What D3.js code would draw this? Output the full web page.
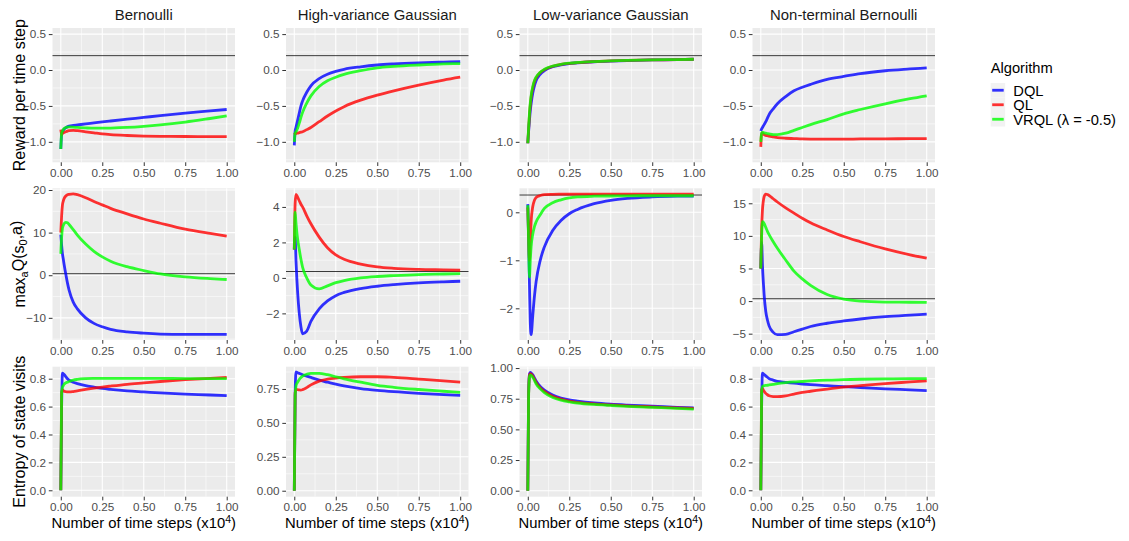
<!DOCTYPE html>
<html>
<head>
<meta charset="utf-8">
<script src="https://cdn.jsdelivr.net/npm/d3@7"></script>
<style>
  body { margin: 0; background: #fff; }
  svg { font-family: "Liberation Sans", Arial, sans-serif; }
</style>
</head>
<body>
<svg id="chart" width="1129" height="541"></svg>
<script>
// shared time grid (x10^4 steps)
const steps = [0, 0.005, 0.01, 0.015, 0.02, 0.03, 0.04, 0.05, 0.075, 0.1, 0.15, 0.2, 0.25, 0.3, 0.4, 0.5, 0.6, 0.75, 0.9, 1.0];

const environments = ["Bernoulli", "High-variance Gaussian", "Low-variance Gaussian", "Non-terminal Bernoulli"];
const algorithms = ["DQL", "QL", "VRQL (λ = -0.5)"];
const colors = ["#0000ff", "#ff0000", "#00ff00"];

// reward per time step
const rewardBernDQL = [-1.1, -0.9, -0.86, -0.84, -0.825, -0.805, -0.79, -0.78, -0.772, -0.765, -0.75, -0.737, -0.723, -0.71, -0.685, -0.66, -0.635, -0.6, -0.57, -0.55];
const rewardBernQL = [-0.83, -0.9, -0.88, -0.875, -0.87, -0.86, -0.85, -0.845, -0.84, -0.845, -0.86, -0.875, -0.89, -0.9, -0.912, -0.92, -0.924, -0.926, -0.927, -0.928];
const rewardBernVRQL = [-1.1, -0.88, -0.85, -0.83, -0.815, -0.8, -0.795, -0.793, -0.795, -0.8, -0.806, -0.81, -0.81, -0.808, -0.8, -0.785, -0.765, -0.725, -0.675, -0.64];
const rewardHighDQL = [-1.05, -0.85, -0.8, -0.75, -0.7, -0.6, -0.5, -0.43, -0.31, -0.22, -0.12, -0.06, -0.02, 0.01, 0.045, 0.07, 0.085, 0.1, 0.11, 0.115];
const rewardHighQL = [-0.9, -0.89, -0.885, -0.88, -0.878, -0.872, -0.866, -0.86, -0.83, -0.8, -0.72, -0.64, -0.57, -0.51, -0.42, -0.35, -0.29, -0.21, -0.14, -0.1];
const rewardHighVRQL = [-1.0, -0.88, -0.86, -0.84, -0.81, -0.74, -0.66, -0.59, -0.46, -0.36, -0.23, -0.15, -0.1, -0.06, -0.01, 0.03, 0.05, 0.07, 0.085, 0.09];
const rewardLowDQL = [-1.02, -0.85, -0.7, -0.57, -0.47, -0.32, -0.22, -0.15, -0.06, -0.01, 0.045, 0.07, 0.09, 0.1, 0.115, 0.125, 0.132, 0.14, 0.145, 0.15];
const rewardLowQL = [-1.02, -0.82, -0.63, -0.49, -0.38, -0.25, -0.16, -0.11, -0.035, 0.005, 0.052, 0.078, 0.093, 0.104, 0.117, 0.126, 0.133, 0.14, 0.145, 0.15];
const rewardLowVRQL = [-1.02, -0.8, -0.6, -0.46, -0.36, -0.23, -0.15, -0.1, -0.03, 0.01, 0.055, 0.08, 0.095, 0.105, 0.118, 0.127, 0.134, 0.141, 0.146, 0.15];
const rewardNonDQL = [-0.85, -0.82, -0.8, -0.78, -0.76, -0.72, -0.67, -0.62, -0.54, -0.47, -0.37, -0.29, -0.24, -0.2, -0.13, -0.09, -0.05, -0.01, 0.015, 0.03];
const rewardNonQL = [-1.07, -0.88, -0.88, -0.89, -0.9, -0.91, -0.915, -0.92, -0.93, -0.94, -0.95, -0.955, -0.96, -0.962, -0.962, -0.962, -0.96, -0.958, -0.956, -0.955];
const rewardNonVRQL = [-1.0, -0.88, -0.87, -0.87, -0.875, -0.88, -0.885, -0.89, -0.9, -0.9, -0.88, -0.84, -0.8, -0.76, -0.69, -0.61, -0.55, -0.47, -0.4, -0.36];

// max_a Q(s0, a)
const qBernDQL = [9.5, 7, 5, 3.8, 2.5, 0.3, -1.8, -3.5, -6.3, -7.9, -10, -11.3, -12.1, -12.7, -13.3, -13.6, -13.8, -13.9, -13.9, -13.9];
const qBernQL = [10, 14, 16.5, 17.4, 18, 18.6, 18.9, 19, 19.1, 18.9, 18.2, 17.3, 16.5, 15.7, 14.4, 13.2, 12.2, 10.8, 9.8, 9.2];
const qBernVRQL = [5, 9, 11, 11.7, 12.1, 12.4, 12.3, 11.9, 10.7, 9.4, 7.3, 5.6, 4.3, 3.3, 2.0, 1.1, 0.3, -0.4, -0.8, -1.0];
const qHighDQL = [1.6, 2.3, 1.0, 0.0, -0.8, -2.0, -2.75, -3.15, -3.0, -2.45, -1.75, -1.3, -1.0, -0.82, -0.6, -0.47, -0.38, -0.28, -0.22, -0.19];
const qHighQL = [1.6, 4.2, 4.7, 4.65, 4.55, 4.35, 4.15, 4.0, 3.5, 3.05, 2.3, 1.7, 1.3, 1.05, 0.78, 0.62, 0.54, 0.48, 0.45, 0.43];
const qHighVRQL = [1.6, 3.7, 3.1, 2.6, 2.2, 1.6, 1.05, 0.6, 0.0, -0.4, -0.62, -0.45, -0.27, -0.15, 0.0, 0.08, 0.13, 0.19, 0.22, 0.24];
const qLowDQL = [0.17, -0.6, -1.5, -2.3, -2.55, -2.15, -1.75, -1.45, -1.0, -0.72, -0.38, -0.17, -0.03, 0.06, 0.18, 0.25, 0.29, 0.32, 0.335, 0.34];
const qLowQL = [0.1, -0.5, -1.0, -0.6, -0.2, 0.12, 0.25, 0.31, 0.35, 0.37, 0.375, 0.377, 0.378, 0.38, 0.38, 0.38, 0.38, 0.38, 0.38, 0.38];
const qLowVRQL = [0.15, -0.6, -1.35, -1.0, -0.72, -0.45, -0.3, -0.2, -0.05, 0.08, 0.2, 0.26, 0.3, 0.32, 0.335, 0.34, 0.343, 0.345, 0.345, 0.345];
const qNonDQL = [5, 9, 5.5, 3, 1.0, -1.6, -2.9, -3.8, -4.8, -5.15, -5.1, -4.7, -4.3, -3.9, -3.4, -3.05, -2.75, -2.4, -2.15, -2.0];
const qNonQL = [5, 11, 14, 15.3, 16, 16.4, 16.35, 16.2, 15.7, 15.2, 14.3, 13.5, 12.7, 12.0, 10.9, 9.9, 9.1, 8.0, 7.1, 6.6];
const qNonVRQL = [5, 10, 12.2, 12.1, 11.9, 11.3, 10.7, 10.2, 9.1, 8.1, 6.3, 4.6, 3.4, 2.4, 1.0, 0.3, 0.0, -0.15, -0.18, -0.2];

// entropy of state visits
const entBernDQL = [0, 0.6, 0.84, 0.835, 0.83, 0.815, 0.8, 0.79, 0.775, 0.765, 0.75, 0.74, 0.73, 0.723, 0.712, 0.705, 0.698, 0.69, 0.683, 0.678];
const entBernQL = [0, 0.7, 0.72, 0.715, 0.71, 0.707, 0.705, 0.705, 0.708, 0.713, 0.723, 0.732, 0.74, 0.747, 0.76, 0.77, 0.78, 0.793, 0.803, 0.81];
const entBernVRQL = [0, 0.7, 0.74, 0.75, 0.76, 0.77, 0.775, 0.78, 0.79, 0.795, 0.8, 0.802, 0.803, 0.803, 0.803, 0.803, 0.802, 0.801, 0.8, 0.8];
const entHighDQL = [0, 0.7, 0.875, 0.873, 0.87, 0.865, 0.86, 0.855, 0.845, 0.835, 0.815, 0.8, 0.785, 0.772, 0.753, 0.74, 0.73, 0.718, 0.708, 0.703];
const entHighQL = [0, 0.72, 0.745, 0.745, 0.745, 0.743, 0.742, 0.745, 0.76, 0.78, 0.808, 0.822, 0.83, 0.835, 0.84, 0.84, 0.835, 0.823, 0.81, 0.8];
const entHighVRQL = [0, 0.7, 0.77, 0.79, 0.8, 0.82, 0.835, 0.845, 0.858, 0.865, 0.865, 0.855, 0.84, 0.825, 0.8, 0.777, 0.762, 0.746, 0.733, 0.725];
const entLowDQL = [0, 0.8, 0.95, 0.965, 0.96, 0.945, 0.92, 0.895, 0.85, 0.82, 0.78, 0.755, 0.74, 0.73, 0.715, 0.705, 0.698, 0.69, 0.68, 0.675];
const entLowQL = [0, 0.79, 0.94, 0.955, 0.95, 0.935, 0.91, 0.883, 0.838, 0.81, 0.77, 0.746, 0.73, 0.72, 0.708, 0.7, 0.692, 0.684, 0.676, 0.672];
const entLowVRQL = [0, 0.78, 0.93, 0.945, 0.94, 0.925, 0.9, 0.872, 0.83, 0.8, 0.76, 0.738, 0.725, 0.715, 0.703, 0.695, 0.688, 0.68, 0.672, 0.665];
const entNonDQL = [0, 0.6, 0.84, 0.835, 0.83, 0.82, 0.81, 0.8, 0.79, 0.78, 0.774, 0.768, 0.762, 0.757, 0.75, 0.743, 0.737, 0.727, 0.72, 0.715];
const entNonQL = [0, 0.72, 0.73, 0.72, 0.71, 0.695, 0.685, 0.678, 0.672, 0.671, 0.677, 0.69, 0.702, 0.71, 0.726, 0.74, 0.75, 0.765, 0.777, 0.785];
const entNonVRQL = [0, 0.7, 0.745, 0.748, 0.75, 0.752, 0.753, 0.755, 0.76, 0.765, 0.772, 0.777, 0.78, 0.784, 0.79, 0.793, 0.796, 0.798, 0.8, 0.8];

// reference (optimal) lines per row, null = none
const refLines = [0.2, 0.36, null];

// y axis settings per panel (row-major)
const yLimits = [
  [-1.285, 0.585], [-1.285, 0.585], [-1.285, 0.585], [-1.285, 0.585],
  [-15.2, 20.4], [-3.5, 5.05], [-2.66, 0.5], [-5.97, 17.3],
  [-0.046, 0.886], [-0.044, 0.914], [-0.049, 1.011], [-0.046, 0.886]
];
const yTicks = [
  [-1, -0.5, 0, 0.5], [-1, -0.5, 0, 0.5], [-1, -0.5, 0, 0.5], [-1, -0.5, 0, 0.5],
  [-10, 0, 10, 20], [-2, 0, 2, 4], [-2, -1, 0], [-5, 0, 5, 10, 15],
  [0, 0.2, 0.4, 0.6, 0.8], [0, 0.25, 0.5, 0.75], [0, 0.25, 0.5, 0.75, 1], [0, 0.2, 0.4, 0.6, 0.8]
];
const yFormats = [".1f", ".1f", ".1f", ".1f", "d", "d", "d", "d", ".1f", ".2f", ".2f", ".1f"];
const xTicks = [0, 0.25, 0.5, 0.75, 1];

const panelSeries = [
  [rewardBernDQL, rewardBernQL, rewardBernVRQL], [rewardHighDQL, rewardHighQL, rewardHighVRQL],
  [rewardLowDQL, rewardLowQL, rewardLowVRQL], [rewardNonDQL, rewardNonQL, rewardNonVRQL],
  [qBernDQL, qBernQL, qBernVRQL], [qHighDQL, qHighQL, qHighVRQL],
  [qLowDQL, qLowQL, qLowVRQL], [qNonDQL, qNonQL, qNonVRQL],
  [entBernDQL, entBernQL, entBernVRQL], [entHighDQL, entHighQL, entHighVRQL],
  [entLowDQL, entLowQL, entLowVRQL], [entNonDQL, entNonQL, entNonVRQL]
];

// layout
const colLeft = [52.5, 286, 519.5, 752.5];
const panelW = 182.5;
const rowTopBottom = [[28, 162.3], [188.3, 340], [366.7, 496.7]];

const svg = d3.select("#chart");
const tickColor = "#333333";
const labelColor = "#4d4d4d";

panelSeries.forEach((series, i) => {
  const row = Math.floor(i / 4);
  const col = i % 4;
  const [top, bottom] = rowTopBottom[row];
  const left = colLeft[col];

  const x = d3.scaleLinear().domain([-0.05, 1.05]).range([left, left + panelW]);
  const y = d3.scaleLinear().domain(yLimits[i]).range([bottom, top]);

  const g = svg.append("g").attr("class", "panel");

  // background
  g.append("rect")
    .attr("x", left).attr("y", top)
    .attr("width", panelW).attr("height", bottom - top)
    .attr("fill", "#ebebeb");

  // minor grid
  const yt = yTicks[i];
  const step = yt[1] - yt[0];
  const yMinor = [];
  for (let v = yt[0] - step / 2; v <= yt[yt.length - 1] + step; v += step) {
    if (v > yLimits[i][0] && v < yLimits[i][1]) yMinor.push(v);
  }
  const xMinor = [0.125, 0.375, 0.625, 0.875];

  g.selectAll(".ymin").data(yMinor).join("line")
    .attr("x1", left).attr("x2", left + panelW)
    .attr("y1", (d) => y(d)).attr("y2", (d) => y(d))
    .attr("stroke", "#fff").attr("stroke-width", 0.55);
  g.selectAll(".xmin").data(xMinor).join("line")
    .attr("y1", top).attr("y2", bottom)
    .attr("x1", (d) => x(d)).attr("x2", (d) => x(d))
    .attr("stroke", "#fff").attr("stroke-width", 0.55);

  // major grid
  g.selectAll(".ymaj").data(yt).join("line")
    .attr("x1", left).attr("x2", left + panelW)
    .attr("y1", (d) => y(d)).attr("y2", (d) => y(d))
    .attr("stroke", "#fff").attr("stroke-width", 1.1);
  g.selectAll(".xmaj").data(xTicks).join("line")
    .attr("y1", top).attr("y2", bottom)
    .attr("x1", (d) => x(d)).attr("x2", (d) => x(d))
    .attr("stroke", "#fff").attr("stroke-width", 1.1);

  // reference line
  if (refLines[row] !== null) {
    g.append("line")
      .attr("x1", left).attr("x2", left + panelW)
      .attr("y1", y(refLines[row])).attr("y2", y(refLines[row]))
      .attr("stroke", "#000").attr("stroke-opacity", 0.75).attr("stroke-width", 1);
  }

  // series lines
  const line = d3.line()
    .x((d, k) => x(steps[k]))
    .y((d) => y(d))
    .curve(d3.curveMonotoneX);

  series.forEach((vals, a) => {
    g.append("path")
      .attr("d", line(vals))
      .attr("fill", "none")
      .attr("stroke", colors[a])
      .attr("stroke-opacity", 0.8)
      .attr("stroke-width", 2.8)
      .attr("stroke-linejoin", "round");
  });

  // axes
  const yAxis = g.append("g")
    .attr("transform", `translate(${left},0)`)
    .call(d3.axisLeft(y).tickValues(yt).tickFormat(d3.format(yFormats[i])).tickSize(3.7).tickPadding(2.8));
  const xAxis = g.append("g")
    .attr("transform", `translate(0,${bottom})`)
    .call(d3.axisBottom(x).tickValues(xTicks).tickFormat(d3.format(".2f")).tickSize(3.7).tickPadding(2.5));

  [yAxis, xAxis].forEach((ax) => {
    ax.select(".domain").remove();
    ax.selectAll("line").attr("stroke", tickColor);
    ax.selectAll("text")
      .attr("fill", labelColor)
      .style("font-size", "11.7px")
      .style("font-family", '"Liberation Sans", Arial, sans-serif');
  });
});

// column titles
svg.selectAll(".coltitle").data(environments).join("text")
  .attr("x", (d, i) => colLeft[i] + panelW / 2)
  .attr("y", 20)
  .attr("text-anchor", "middle")
  .attr("fill", "#1a1a1a")
  .style("font-size", "14.9px")
  .text((d) => d);

// x axis titles
colLeft.forEach((left) => {
  const t = svg.append("text")
    .attr("x", left + panelW / 2)
    .attr("y", 528)
    .attr("text-anchor", "middle")
    .attr("fill", "#000")
    .style("font-size", "14.8px");
  t.append("tspan").text("Number of time steps (x10");
  t.append("tspan").attr("dy", "-0.45em").style("font-size", "10.5px").text("4");
  t.append("tspan").attr("dy", "0.3em").text(")");
});

// y axis titles
const rowMid = rowTopBottom.map(([t, b]) => (t + b) / 2);
const yTitle = (row) => svg.append("text")
  .attr("transform", `translate(25,${rowMid[row]}) rotate(-90)`)
  .attr("text-anchor", "middle")
  .attr("fill", "#000")
  .style("font-size", "16px");

yTitle(0).text("Reward per time step");
const qt = yTitle(1);
qt.append("tspan").text("max");
qt.append("tspan").attr("dy", "0.3em").style("font-size", "11px").text("a");
qt.append("tspan").attr("dy", "-0.3em").text("Q(s");
qt.append("tspan").attr("dy", "0.3em").style("font-size", "11px").text("0");
qt.append("tspan").attr("dy", "-0.3em").text(",a)");
yTitle(2).text("Entropy of state visits");

// legend
const legend = svg.append("g").attr("transform", "translate(990.7,0)");
legend.append("text")
  .attr("x", 0).attr("y", 73)
  .attr("fill", "#000")
  .style("font-size", "14.7px")
  .text("Algorithm");

const keySize = 14.5;
const keyTop = 83;
const keys = legend.selectAll(".key").data(algorithms).join("g")
  .attr("transform", (d, i) => `translate(0,${keyTop + i * keySize})`);
keys.append("rect")
  .attr("width", keySize).attr("height", keySize)
  .attr("fill", "#f2f2f2");
keys.append("line")
  .attr("x1", 1.5).attr("x2", keySize - 1.5)
  .attr("y1", keySize / 2).attr("y2", keySize / 2)
  .attr("stroke", (d, i) => colors[i])
  .attr("stroke-opacity", 0.8)
  .attr("stroke-width", 2.8);
keys.append("text")
  .attr("x", 22.6)
  .attr("y", keySize / 2 + 5.3)
  .attr("fill", "#000")
  .style("font-size", "14.7px")
  .text((d) => d);
</script>
</body>
</html>
